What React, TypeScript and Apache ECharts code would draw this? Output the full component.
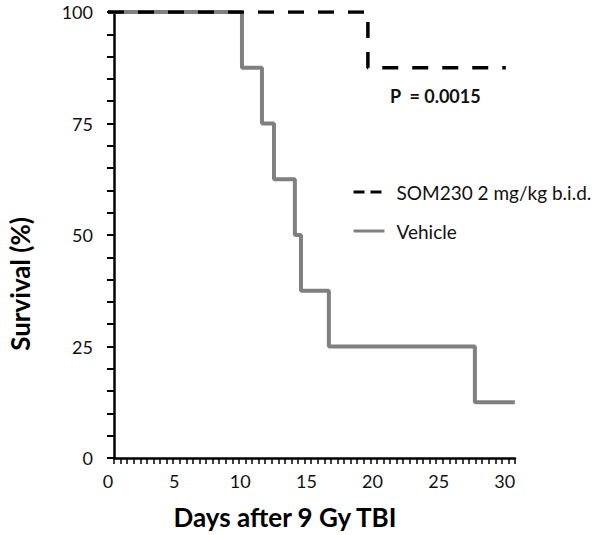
import React, { useEffect, useRef } from "react";
import * as echarts from "echarts";

// Kaplan–Meier survival steps (day at which each level starts, survival %)
const vehicleDays = [0, 10.13, 11.64, 12.55, 14.13, 14.59, 16.7, 27.74, 30.76];
const vehicleSurvival = [100, 87.5, 75, 62.5, 50, 37.5, 25, 12.5, 12.5];
const somDays = [0, 19.65, 30.08];
const somSurvival = [100, 87.5, 87.5];

const xTickLabels = [0, 5, 10, 15, 20, 25, 30];
const yTickLabels = [0, 25, 50, 75, 100];

const seriesNames = ["SOM230 2 mg/kg b.i.d.", "Vehicle"];
const pValueText = "P  = 0.0015";
const xTitle = "Days after 9 Gy TBI";
const yTitle = "Survival (%)";

const FONT = "Lato, 'Open Sans', sans-serif";

export default function App() {
  const ref = useRef<HTMLDivElement>(null);
  useEffect(() => {
    document.body.style.margin = "0";
    const chart = echarts.init(ref.current!, null, { renderer: "svg" });
    const option: any = {
      animation: false,
      grid: [
        { left: 108, top: 12, width: 410, height: 446 },
        { left: 114, top: 12, width: 401, height: 446 },
      ],
      xAxis: [
        {
          gridIndex: 0,
          type: "value",
          min: 0,
          max: 31,
          interval: 5,
          axisLine: { show: false },
          axisTick: { show: false },
          splitLine: { show: false },
          axisLabel: {
            margin: 14,
            fontSize: 18,
            fontFamily: FONT,
            color: "#111",
            showMaxLabel: false,
            formatter: (v: number) => (xTickLabels.includes(v) ? String(v) : ""),
          },
        },
        {
          gridIndex: 1,
          type: "value",
          min: 0,
          max: 30.5,
          interval: 0.5,
          axisLine: { show: true, lineStyle: { color: "#000", width: 2.5 } },
          axisTick: { show: true, length: 6, lineStyle: { color: "#000", width: 1.5 } },
          splitLine: { show: false },
          axisLabel: { show: false },
        },
      ],
      yAxis: [
        {
          gridIndex: 0,
          type: "value",
          min: 0,
          max: 100,
          show: false,
          splitLine: { show: false },
        },
        {
          gridIndex: 1,
          type: "value",
          min: 0,
          max: 100,
          interval: 25,
          axisLine: { show: true, lineStyle: { color: "#000", width: 2.5 } },
          axisTick: { show: true, length: 7, lineStyle: { color: "#000", width: 2 } },
          minorTick: { show: true, splitNumber: 5, length: 7, lineStyle: { color: "#000", width: 2 } },
          splitLine: { show: false },
          axisLabel: {
            margin: 21,
            fontSize: 18,
            fontFamily: FONT,
            color: "#111",
            formatter: (v: number) => (yTickLabels.includes(v) ? String(v) : ""),
          },
        },
      ],
      legend: {
        orient: "vertical",
        left: 347,
        top: 177,
        itemWidth: 31,
        itemHeight: 14,
        itemGap: 19,
        textStyle: { fontSize: 19, fontFamily: FONT, color: "#111", lineHeight: 20, padding: [0, 0, 0, 7] },
        data: [
          {
            name: seriesNames[0],
            lineStyle: { type: [11, 6], width: 3, color: "#000" },
            itemStyle: { opacity: 0 },
          },
          {
            name: seriesNames[1],
            lineStyle: { width: 3, color: "#808080" },
            itemStyle: { opacity: 0 },
          },
        ],
      },
      series: [
        {
          name: seriesNames[1],
          type: "line",
          xAxisIndex: 0,
          yAxisIndex: 0,
          step: "end",
          symbol: "none",
          data: vehicleDays.map((d, i) => [d, vehicleSurvival[i]]),
          lineStyle: { color: "#808080", width: 4 },
          itemStyle: { color: "#808080" },
          z: 2,
        },
        {
          name: seriesNames[0],
          type: "line",
          xAxisIndex: 0,
          yAxisIndex: 0,
          step: "end",
          symbol: "none",
          data: somDays.map((d, i) => [d, somSurvival[i]]),
          lineStyle: { color: "#000", width: 3.5, type: [16, 14] },
          itemStyle: { color: "#000" },
          z: 3,
        },
      ],
      graphic: [
        {
          type: "text",
          left: 390,
          top: 87,
          style: { text: pValueText, font: `bold 18px ${FONT}`, fill: "#111" },
        },
        {
          type: "text",
          x: 285,
          y: 517,
          style: {
            text: xTitle,
            font: `bold 26px ${FONT}`,
            fill: "#000",
            align: "center",
            verticalAlign: "middle",
          },
        },
        {
          type: "text",
          x: 20,
          y: 284,
          rotation: Math.PI / 2,
          style: {
            text: yTitle,
            font: `bold 26px ${FONT}`,
            fill: "#000",
            align: "center",
            verticalAlign: "middle",
          },
        },
      ],
    };
    chart.setOption(option);
    return () => chart.dispose();
  }, []);
  return <div ref={ref} style={{ width: 600, height: 535 }} />;
}
